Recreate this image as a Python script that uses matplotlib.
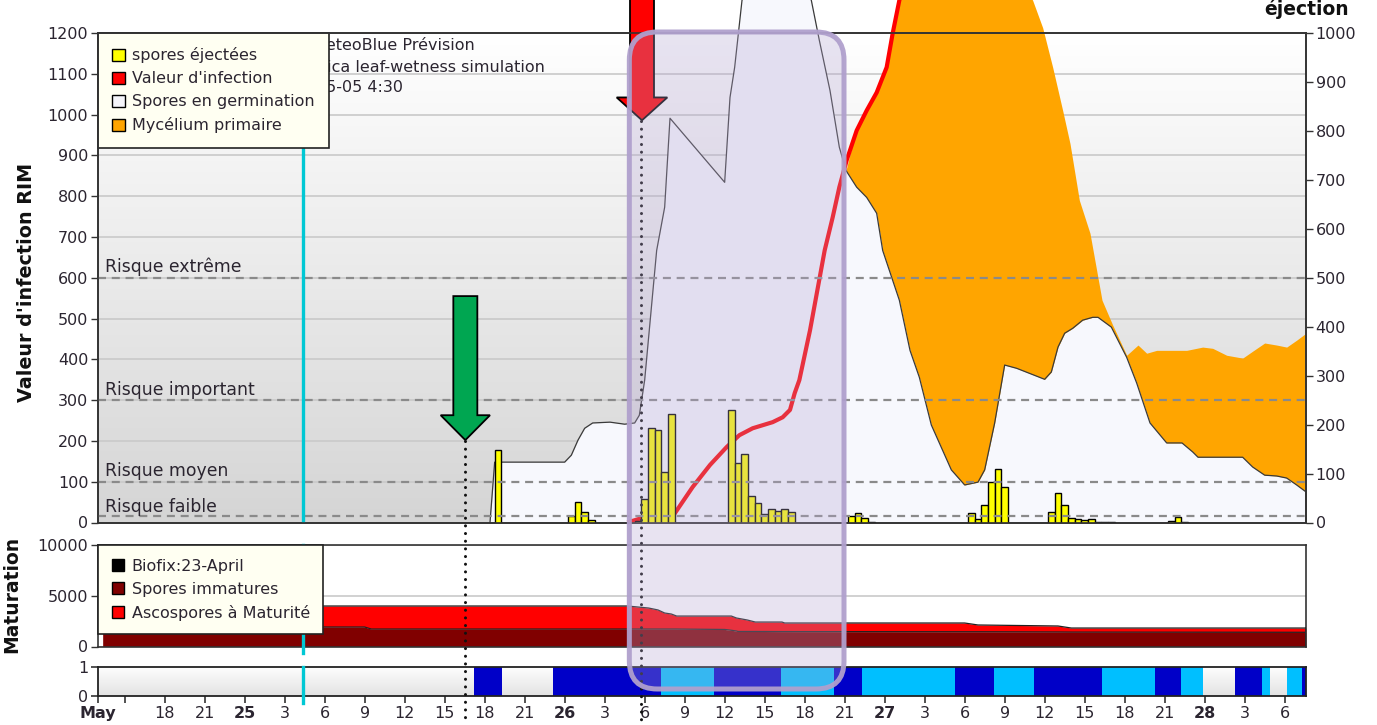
import numpy as np
import matplotlib
matplotlib.use('Agg')
import matplotlib.pyplot as plt
from matplotlib.patches import Polygon, FancyBboxPatch, Patch
from matplotlib.colors import LinearSegmentedColormap
from matplotlib.transforms import IdentityTransform

# ---------------- data (x = hours relative to 25 May 00:00) ----------------
spore_h = [19.0, 24.5, 25.0, 25.5, 26.0, 29.5, 30.0, 30.5, 31.0, 31.5, 32.0,
           36.5, 37.0, 37.5, 38.0, 38.5, 39.0, 39.5, 40.0, 40.5, 41.0,
           45.5, 46.0, 46.5, 47.0, 54.5, 55.0, 55.5, 56.0, 56.5, 57.0,
           60.5, 61.0, 61.5, 62.0, 62.5, 63.0, 63.5, 64.0, 64.5, 65.0,
           69.5, 70.0, 70.5]
spore_v = [148, 13, 42, 21, 5, 4, 48, 193, 189, 103, 221,
           230, 121, 140, 54, 40, 17, 28, 23, 28, 21,
           13, 19, 9, 1, 19, 7, 36, 83, 109, 72,
           21, 60, 36, 9, 7, 5, 7, 1, 1, 1,
           3, 11, 1]

germ_h = [18.4, 18.75, 24.0, 24.5, 25.0, 25.5, 26.1, 27.4, 28.5, 29.25, 29.6, 30.0,
          30.9, 31.5, 31.9, 36.0, 36.4, 36.75, 37.3, 38.6, 40.9, 42.5, 43.1, 43.9,
          44.6, 45.1, 45.9, 46.65, 47.4, 47.85, 49.1, 49.9, 50.6, 51.5, 53.0, 54.0,
          55.0, 55.5, 56.25, 57.0, 57.9, 60.0, 60.5, 61.0, 61.5, 62.1, 62.85, 63.6,
          64.0, 65.0, 66.15, 66.9, 67.9, 69.15, 70.3, 71.1, 71.5, 74.85, 75.6, 76.5,
          77.4, 78.15, 78.9, 79.6, 79.6]
germ_v = [0, 148, 148, 165, 202, 231, 244, 246, 241, 244, 263, 349,
          667, 773, 991, 834, 1042, 1116, 1280, 1378, 1402, 1280, 1182, 1059,
          920, 863, 822, 797, 758, 667, 545, 422, 356, 239, 129, 92,
          99, 129, 244, 386, 378, 351, 369, 430, 464, 476, 496, 503,
          503, 479, 405, 342, 244, 195, 195, 173, 160, 160, 136, 116,
          114, 109, 92, 75, 0]

myc_h = [45.1, 45.9, 46.65, 47.4, 48.15, 48.6, 49.1, 50.6, 54.4, 57.4, 59.1, 59.85,
         60.6, 61.35, 61.9, 62.6, 63.4, 64.3, 65.1, 66.15, 67.0, 67.65, 68.4, 70.65,
         71.85, 72.6, 73.65, 74.85, 75.6, 76.5, 77.4, 78.15, 78.9, 79.6]
myc_v = [863, 969, 1018, 1059, 1116, 1199, 1280, 1427, 1476, 1378, 1280, 1213,
         1116, 1010, 929, 790, 709, 545, 484, 410, 435, 415, 422, 422,
         430, 427, 410, 403, 420, 440, 435, 430, 447, 464]

inf_h = [28.7, 29.8, 32.25, 33.6, 34.9, 36.15, 37.1, 38.1, 39.6, 40.35, 40.9, 41.25,
         41.6, 42.4, 43.5, 44.1, 44.6, 45.15, 45.9, 46.65, 47.4, 48.15, 48.6, 49.1, 49.5]
inf_v = [0, 11, 22, 87, 141, 185, 214, 231, 246, 258, 276, 317,
         349, 471, 667, 748, 822, 888, 961, 1010, 1054, 1116, 1199, 1280, 1329]

risk_levels = [600, 300, 100, 15]
risk_labels = ['Risque extrême', 'Risque important', 'Risque moyen', 'Risque faible']
risk_text_y = [628, 326, 126, 37]

mat_h = [-10.65, 9.0, 9.5, 28.7, 29.5, 30.3, 31.0, 31.5, 32.0, 32.4, 36.0, 36.5,
         36.9, 37.0, 37.7, 38.3, 40.3, 40.5, 54.0, 55.0, 61.0, 62.0, 79.6]
immature = [1920, 1920, 1720, 1720, 1720, 1720, 1720, 1720, 1720, 1720, 1680, 1600,
            1520, 1480, 1480, 1480, 1470, 1470, 1450, 1450, 1430, 1420, 1400]
mature = [2070, 2070, 2270, 2270, 2170, 2070, 1880, 1580, 1480, 1280, 1320, 1400,
          1280, 1300, 1130, 930, 940, 845, 865, 670, 590, 400, 420]

strip_start = [17.2, 19.3, 23.1, 31.2, 35.2, 40.2, 44.2, 46.3, 53.25, 56.2, 59.2, 64.3,
               68.25, 70.2, 71.85, 74.25, 76.3, 76.9, 78.2, 79.3]
strip_end = [19.3, 23.1, 31.2, 35.2, 40.2, 44.2, 46.3, 53.25, 56.2, 59.2, 64.3, 68.25,
             70.2, 71.85, 74.25, 76.3, 76.9, 78.2, 79.3, 79.6]
strip_kind = ['dark', 'dry', 'dark', 'light', 'dark', 'light', 'dark', 'light', 'dark', 'light',
              'dark', 'light', 'dark', 'light', 'dry', 'dark', 'light', 'dry', 'light', 'dark']

x_ticks = [-11, -9, -6, -3, 0, 3, 6, 9, 12, 15, 18, 21, 24, 27, 30, 33, 36, 39, 42, 45,
           48, 51, 54, 57, 60, 63, 66, 69, 72, 75, 78]
x_labels = ['May', '', '18', '21', '25', '3', '6', '9', '12', '15', '18', '21', '26', '3',
            '6', '9', '12', '15', '18', '21', '27', '3', '6', '9', '12', '15', '18', '21',
            '28', '3', '6']
bold_labels = {'May', '25', '26', '27', '28'}

biofix_h = 4.35
green_arrow_h = 16.55
red_arrow_h = 29.8
XLIM = (-11.0, 79.6)

# ---------------- figure ----------------
W, H, DPI = 1377, 725, 100
fig = plt.figure(figsize=(W / DPI, H / DPI), dpi=DPI)
fig.patch.set_facecolor('white')


def rect(l, t, r, b):
    return [l / W, 1 - b / H, (r - l) / W, (b - t) / H]


ax = fig.add_axes(rect(98, 33, 1306, 522.5))
axm = fig.add_axes(rect(98, 545, 1306, 646.5))
axs = fig.add_axes(rect(98, 667, 1306, 696))
ax.set_zorder(3)
axr = ax.twinx()
axr.set_zorder(4)

TXT = '#2b2530'
SP = '#333333'
LEGFS = 11.5

# background gradients
bg = LinearSegmentedColormap.from_list('bg', ['#d5d5d5', '#ffffff'])
grad = np.linspace(1, 0, 256).reshape(-1, 1)
ax.imshow(grad, extent=[0, 1, 0, 1], transform=ax.transAxes, aspect='auto',
          cmap=bg, vmin=0, vmax=1, zorder=0)
bg2 = LinearSegmentedColormap.from_list('bg2', ['#e2e2e2', '#ffffff'])
axs.imshow(grad, extent=[0, 1, 0, 1], transform=axs.transAxes, aspect='auto',
           cmap=bg2, vmin=0, vmax=1, zorder=0)

# main panel
ax.set_xlim(*XLIM)
ax.set_ylim(0, 1200)
axr.set_ylim(0, 1000)
ax.set_yticks(np.arange(0, 1201, 100))
axr.set_yticks(np.arange(0, 1001, 100))
ax.set_axisbelow(True)
ax.yaxis.grid(True, color='#c9c9c9', lw=1.2)
ax.set_xticks([])

ax.fill_between(myc_h, 0, myc_v, color='#ffa500', lw=0, zorder=1.5, clip_on=False)
ax.fill_between(germ_h, 0, germ_v, color='#f7f8fd', lw=0, zorder=2, clip_on=False)
ax.plot(germ_h, germ_v, color='#3a3a3a', lw=0.9, zorder=2.1, clip_on=False)
ax.plot(inf_h, inf_v, color='#ff0000', lw=3.0, zorder=3, clip_on=False,
        solid_capstyle='butt')
ax.bar(spore_h, spore_v, width=0.5, align='center', color='#ffff00',
       edgecolor='black', linewidth=1.0, transform=axr.transData, zorder=3.5)
for lv, lab, ty in zip(risk_levels, risk_labels, risk_text_y):
    ax.axhline(lv, color='#8a8a8a', lw=1.6, ls=(0, (3.6, 2.6)), zorder=4)
    ax.text(-10.45, ty, lab, fontsize=12.4, color=TXT, va='center', ha='left', zorder=4)

ax.axvline(biofix_h, color='#00c8d4', lw=2.4, zorder=4.5)

# title lines (partly hidden by the legend)
ax.text(312 / W, 1 - 45 / H, 'MeteoBlue Prévision', transform=fig.transFigure,
        fontsize=11.5, color=TXT, va='center', zorder=4)
ax.text(316 / W, 1 - 67 / H, 'Rica leaf-wetness simulation', transform=fig.transFigure,
        fontsize=11.5, color=TXT, va='center', zorder=4)
ax.text(316 / W, 1 - 88 / H, '05-05 4:30', transform=fig.transFigure,
        fontsize=11.5, color=TXT, va='center', zorder=4)

# arrows
def down_arrow(xc, shaft_w, head_w, y_top, y_head, y_tip, color):
    pts = [(xc - shaft_w / 2, y_top), (xc + shaft_w / 2, y_top), (xc + shaft_w / 2, y_head),
           (xc + head_w / 2, y_head), (xc, y_tip), (xc - head_w / 2, y_head),
           (xc - shaft_w / 2, y_head)]
    ax.add_patch(Polygon(pts, closed=True, fc=color, ec='black', lw=1.3,
                         zorder=6, clip_on=False))

down_arrow(green_arrow_h, 1.8, 3.7, 555, 263, 202, '#00a651')
down_arrow(red_arrow_h, 1.8, 3.8, 1420, 1042, 986, '#ff0000')
ax.plot([green_arrow_h - 0.05] * 2, [200, -490], color='#111111', lw=2.2,
        ls=(0, (0.01, 2.5)), dash_capstyle='round', zorder=6, clip_on=False)
ax.plot([red_arrow_h - 0.05] * 2, [984, -490], color='#111111', lw=2.2,
        ls=(0, (0.01, 2.5)), dash_capstyle='round', zorder=6, clip_on=False)

for a in (ax, axr):
    for s in a.spines.values():
        s.set_color(SP)
        s.set_linewidth(1.2)
ax.tick_params(axis='y', direction='out', length=5, width=1, colors=SP,
               labelsize=11.5, labelcolor=TXT, pad=2)
axr.tick_params(axis='y', direction='out', length=5, width=1, colors=SP,
                labelsize=11.5, labelcolor=TXT, pad=2)

leg = ax.legend([Patch(fc='#ffff00', ec='black', lw=1), Patch(fc='#ff0000', ec='black', lw=1),
                 Patch(fc='#f5f5fa', ec='black', lw=1), Patch(fc='#ffa500', ec='black', lw=1)],
                ['spores éjectées', "Valeur d'infection", 'Spores en germination',
                 'Mycélium primaire'],
                loc='upper left', bbox_to_anchor=(0, 1), borderaxespad=0, fancybox=False,
                edgecolor='#222222', facecolor='#fffff2', framealpha=1, fontsize=LEGFS,
                handlelength=0.8, handleheight=0.8, handletextpad=0.45,
                labelspacing=0.5, borderpad=0.9, labelcolor=TXT)
leg.get_frame().set_linewidth(1.2)
leg.set_zorder(7)

# maturation panel
axm.set_xlim(*XLIM)
axm.set_ylim(0, 10000)
axm.set_yticks([0, 5000, 10000])
axm.set_xticks([])
axm.yaxis.grid(True, color='#c9c9c9', lw=1.2)
axm.set_axisbelow(True)
total = [a + b for a, b in zip(immature, mature)]
axm.fill_between(mat_h, 0, immature, color='#800000', lw=0, zorder=2)
axm.fill_between(mat_h, immature, total, color='#ff0000', lw=0, zorder=2)
axm.plot(mat_h, immature, color='#202020', lw=0.9, zorder=2.2)
axm.plot(mat_h, total, color='#202020', lw=0.9, zorder=2.2)
axm.plot([mat_h[-1]] * 2, [0, total[-1]], color='#000000', lw=1.2, zorder=2.2)
axm.axvline(biofix_h, ymin=-0.06, ymax=1, color='#00c8d4', lw=2.4, zorder=4.5, clip_on=False)
for s in axm.spines.values():
    s.set_color(SP)
    s.set_linewidth(1.2)
axm.tick_params(axis='y', direction='out', length=5, width=1, colors=SP,
                labelsize=11.5, labelcolor=TXT, pad=2)
legm = axm.legend([Patch(fc='black', ec='black', lw=1), Patch(fc='#800000', ec='black', lw=1),
                   Patch(fc='#ff0000', ec='black', lw=1)],
                  ['Biofix:23-April', 'Spores immatures', 'Ascospores à Maturité'],
                  loc='upper left', bbox_to_anchor=(0, 1), borderaxespad=0, fancybox=False,
                  edgecolor='#222222', facecolor='#fffff2', framealpha=1, fontsize=LEGFS,
                  handlelength=0.8, handleheight=0.8, handletextpad=0.45,
                  labelspacing=0.5, borderpad=0.85, labelcolor=TXT)
legm.get_frame().set_linewidth(1.2)
legm.set_zorder(7)

# wetness strip
axs.set_xlim(*XLIM)
axs.set_ylim(0, 1)
axs.set_yticks([0, 1])
kind_color = {'dark': '#0000c8', 'light': '#00bfff'}
for s0, s1, k in zip(strip_start, strip_end, strip_kind):
    if k in kind_color:
        axs.bar(s0, 1, width=s1 - s0, align='edge', color=kind_color[k], lw=0, zorder=1)
axs.axvline(biofix_h, ymin=-0.25, ymax=1, color='#00c8d4', lw=2.4, zorder=4.5, clip_on=False)
axs.set_xticks(x_ticks)
axs.set_xticklabels(x_labels)
for t in axs.get_xticklabels():
    if t.get_text() in bold_labels:
        t.set_fontweight('bold')
for s in axs.spines.values():
    s.set_color('#222222')
    s.set_linewidth(1.3)
axs.tick_params(axis='both', direction='out', length=5, width=1.2, colors=SP,
                labelsize=11.5, labelcolor=TXT, pad=2)

# axis titles
fig.text(27 / W, 1 - 282 / H, "Valeur d'infection RIM", rotation=90, ha='center',
         va='center', fontsize=13.8, fontweight='bold', color='#111111')
fig.text(12 / W, 1 - 594 / H, 'Maturation', rotation=90, ha='center', va='center',
         fontsize=13.5, fontweight='bold', color='#111111')
fig.text(1307 / W, 1 - 9 / H, 'éjection', ha='center', va='center', fontsize=13.5,
         fontweight='bold', color='#111111')

# highlighted period (rounded box spanning all panels)
ov_x0, ov_x1 = 28.85, 44.95
px0 = ax.transData.transform((ov_x0, 0))[0]
px1 = ax.transData.transform((ov_x1, 0))[0]
top_px, bot_px = 32, 689
box = FancyBboxPatch((px0, H - bot_px), px1 - px0, bot_px - top_px,
                     boxstyle='round,pad=0,rounding_size=28', transform=IdentityTransform(),
                     fc=(180 / 255, 165 / 255, 210 / 255, 0.30),
                     ec=(176 / 255, 160 / 255, 205 / 255, 0.95), lw=3.6, zorder=20)
fig.add_artist(box)

fig.savefig('out.png', dpi=DPI)
